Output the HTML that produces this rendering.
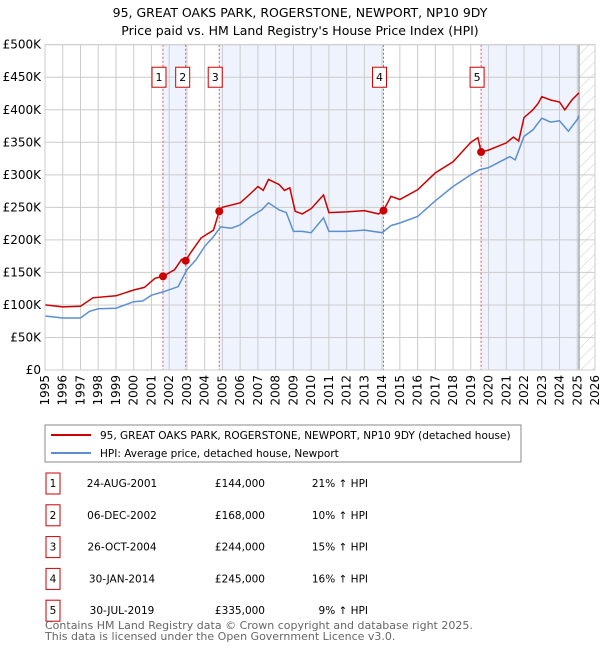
<!DOCTYPE html>
<html><head><meta charset="utf-8"><style>
body{margin:0;background:#fff;font-family:"DejaVu Sans","Liberation Sans",sans-serif;}
svg text{font-family:"DejaVu Sans","Liberation Sans",sans-serif;fill:#000;}
</style></head><body>
<svg id="c" width="600" height="650" xmlns="http://www.w3.org/2000/svg">
<defs><pattern id="hatch" width="8" height="8" patternUnits="userSpaceOnUse" patternTransform="rotate(45)"><line x1="0" y1="0" x2="0" y2="8" stroke="#ccc" stroke-width="1"/></pattern></defs>
<text x="300" y="17" text-anchor="middle" font-size="12.5">95, GREAT OAKS PARK, ROGERSTONE, NEWPORT, NP10 9DY</text>
<text x="300" y="35" text-anchor="middle" font-size="12.5">Price paid vs. HM Land Registry's House Price Index (HPI)</text>
<g id="plot"></g>
<rect x="45" y="425" width="476" height="37" fill="#fff" stroke="#888"/>
<line x1="51" y1="435" x2="91" y2="435" stroke="#cc0000" stroke-width="2"/>
<text x="100" y="439" font-size="10.5">95, GREAT OAKS PARK, ROGERSTONE, NEWPORT, NP10 9DY (detached house)</text>
<line x1="51" y1="453" x2="91" y2="453" stroke="#5b8fd0" stroke-width="2"/>
<text x="100" y="457" font-size="10.5">HPI: Average price, detached house, Newport</text>
<g id="tbl"></g>
<text x="45" y="629" font-size="11" style="fill:#666">Contains HM Land Registry data © Crown copyright and database right 2025.</text>
<text x="45" y="640" font-size="11" style="fill:#666">This data is licensed under the Open Government Licence v3.0.</text>
</svg>
<script>
const hpiYears=[1995,1996,1997,1997.5,1998,1999,2000,2000.5,2001,2001.65,2002.5,2003,2003.5,2004,2004.5,2004.9,2005.5,2006,2006.6,2007.2,2007.6,2008.2,2008.6,2009,2009.5,2010,2010.7,2011,2012,2013,2014,2014.5,2015,2016,2017,2018,2019,2019.5,2020,2020.5,2021.2,2021.5,2022,2022.5,2023,2023.5,2024,2024.5,2025,2025.1];
const hpiValues=[83,80,80,90,94,95,105,106,115,120,128,154,169,190,205,220,218,223,236,246,257,246,242,213,213,211,234,213,213,215,211,222,226,236,260,282,300,308,311,318,328,323,359,369,387,381,383,367,385,391];
const propYears=[1995,1996,1997,1997.7,1999,2000,2000.6,2001.2,2001.65,2002.3,2002.7,2002.93,2003.2,2003.8,2004.5,2004.82,2005,2006,2006.5,2007,2007.3,2007.6,2008.2,2008.5,2008.8,2009.1,2009.5,2010,2010.7,2011,2012,2013,2013.8,2014.08,2014.5,2015,2016,2017,2018,2019,2019.4,2019.58,2020,2021,2021.4,2021.7,2022,2022.5,2022.8,2023,2023.5,2024,2024.3,2024.7,2025.1];
const propValues=[100,97,98,111,114,123,127,141,144,154,170,168,180,203,215,244,250,257,269,282,276,293,285,276,280,244,240,248,269,242,243,245,240,245,267,262,277,303,320,350,357,335,338,349,358,352,388,400,410,420,415,412,400,415,426];
const saleYears=[2001.65,2002.93,2004.82,2014.08,2019.58];
const salePrices=[144,168,244,245,335];
const saleLabels=["1","2","3","4","5"];
const saleDates=["24-AUG-2001","06-DEC-2002","26-OCT-2004","30-JAN-2014","30-JUL-2019"];
const salePriceText=["£144,000","£168,000","£244,000","£245,000","£335,000"];
const saleHpi=["21% ↑ HPI","10% ↑ HPI","15% ↑ HPI","16% ↑ HPI","9% ↑ HPI"];
const yTicks=[0,50,100,150,200,250,300,350,400,450,500];
const yTickLabels=["£0","£50K","£100K","£150K","£200K","£250K","£300K","£350K","£400K","£450K","£500K"];
const xTicks=[1995,1996,1997,1998,1999,2000,2001,2002,2003,2004,2005,2006,2007,2008,2009,2010,2011,2012,2013,2014,2015,2016,2017,2018,2019,2020,2021,2022,2023,2024,2025,2026];

const X0=45,X1=595,Y0=370,Y1=44.7,xmin=1995,xmax=2026,ymax=500,dataEnd=2025.1;
const sx=v=>X0+(v-xmin)/(xmax-xmin)*(X1-X0);
const sy=v=>Y0-v/ymax*(Y0-Y1);
const NS="http://www.w3.org/2000/svg";
const plot=document.getElementById('plot');
function mk(tag,attrs,parent){const e=document.createElementNS(NS,tag);for(const k in attrs)e.setAttribute(k,attrs[k]);(parent||plot).appendChild(e);return e;}
const bands=[[0,1],[2,3]];
bands.forEach(b=>{const r=mk('rect',{x:sx(saleYears[b[0]]),y:Y1,width:sx(saleYears[b[1]])-sx(saleYears[b[0]]),height:Y0-Y1,fill:'#eef3fd'});

});
{const r=mk('rect',{x:sx(saleYears[4]),y:Y1,width:sx(dataEnd)-sx(saleYears[4]),height:Y0-Y1,fill:'#eef3fd'});

}
{const r=mk('rect',{x:sx(dataEnd),y:Y1,width:X1-sx(dataEnd),height:Y0-Y1,fill:'url(#hatch)'});

}
yTicks.forEach((t,i)=>{const l=mk('line',{x1:X0,x2:X1,y1:sy(t),y2:sy(t),stroke:'#ccc','stroke-width':1});


const tx=mk('text',{x:X0-4,y:sy(t)+4,'text-anchor':'end','font-size':12});tx.textContent=yTickLabels[i];

});
xTicks.forEach(t=>{const l=mk('line',{x1:sx(t),x2:sx(t),y1:Y1,y2:Y0,stroke:'#ccc','stroke-width':1});


const tx=mk('text',{x:0,y:0,'text-anchor':'end','font-size':12,transform:`translate(${sx(t)+4},${Y0+5}) rotate(-90)`});tx.textContent=t;

});
{const l=mk('line',{x1:sx(dataEnd),x2:sx(dataEnd),y1:Y1,y2:Y0,stroke:'#999','stroke-width':1.2});

}
const boxOffsets=[-11,-10,-11,-11,-11];
saleYears.forEach((y,i)=>{const l=mk('line',{x1:sx(y),x2:sx(y),y1:Y1,y2:Y0,stroke:'#e05050','stroke-width':1,'stroke-dasharray':'2,2'});


const by=sy(450);
const bx=sx(y)+boxOffsets[i]-(i===0?0:0);
const r=mk('rect',{x:bx,y:by-10,width:14,height:20,fill:'#fff',stroke:'#cc0000'});


const tx=mk('text',{x:bx+7,y:by+4,'text-anchor':'middle','font-size':11});tx.textContent=saleLabels[i];

});
function pathOf(xs,ys){return xs.map((x,i)=>(i?'L':'M')+sx(x).toFixed(1)+','+sy(ys[i]).toFixed(1)).join(' ');}
{const p=mk('path',{d:pathOf(hpiYears,hpiValues),fill:'none',stroke:'#5b8fd0','stroke-width':1.5});

}
{const p=mk('path',{d:pathOf(propYears,propValues),fill:'none',stroke:'#cc0000','stroke-width':1.5});

}
saleYears.forEach((y,i)=>{const c=mk('circle',{cx:sx(y),cy:sy(salePrices[i]),r:4,fill:'#cc0000'});

});
{const r=mk('rect',{x:X0,y:Y1,width:X1-X0,height:Y0-Y1,fill:'none',stroke:'#ccc'});

}
const tbl=document.getElementById('tbl');
saleLabels.forEach((s,i)=>{const cy=483+i*31.8;
const r=mk('rect',{x:46,y:cy-10,width:14,height:21,fill:'#fff',stroke:'#cc0000'},tbl);


const cells=[[53,'middle',s,'table-sale-number'],[122,'middle',saleDates[i],'table-sale-date'],[265,'end',salePriceText[i],'table-sale-price'],[368,'end',saleHpi[i],'table-sale-hpi']];
cells.forEach(c=>{const t=mk('text',{x:c[0],y:cy+4,'text-anchor':c[1],'font-size':10.5},tbl);t.textContent=c[2];

});});
</script>
</body></html>
